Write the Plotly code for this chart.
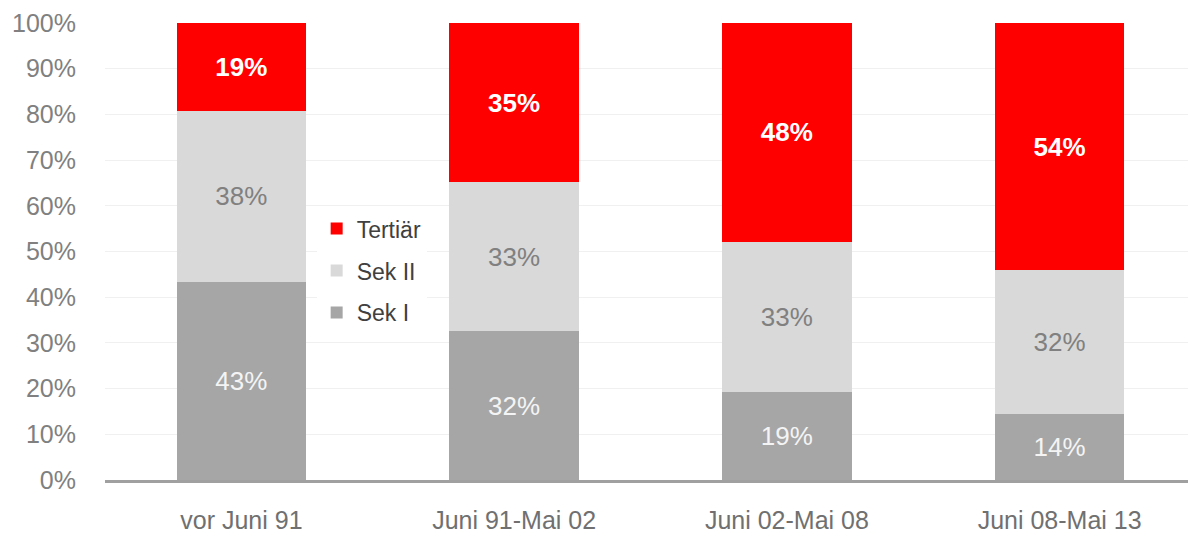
import plotly.graph_objects as go

categories = ["vor Juni 91", "Juni 91-Mai 02", "Juni 02-Mai 08", "Juni 08-Mai 13"]
sek1 = [43.3, 32.5, 19.2, 14.4]
sek2 = [37.5, 32.6, 32.9, 31.5]
tert = [19.2, 34.9, 47.9, 54.1]

FONT = "Liberation Sans, Arial, sans-serif"

fig = go.Figure()
series = [
    ("Sek I", sek1, "#A6A6A6", dict(color="#F4F4F4", size=26, family=FONT), 3),
    ("Sek II", sek2, "#D9D9D9", dict(color="#808080", size=26, family=FONT), 2),
    ("Tertiär", tert, "#FF0000", dict(color="#FFFFFF", size=26, family=FONT, weight="bold"), 1),
]
for name, vals, col, tf, rank in series:
    fig.add_trace(go.Bar(
        x=categories, y=vals, name=name, legendgroup=name, legendrank=rank,
        marker=dict(color=col, line=dict(width=0)),
        text=[f"{round(v)}%" for v in vals], textposition="inside",
        insidetextanchor="middle", textfont=tf, textangle=0,
        hoverinfo="skip",
    ))

fig.update_layout(
    barmode="stack", bargap=0.525,
    width=1188, height=528,
    margin=dict(l=97, r=0, t=15, b=56),
    paper_bgcolor="white", plot_bgcolor="white",
    legend=dict(
        x=0.194, y=0.597, xanchor="left", yanchor="top",
        bgcolor="white", traceorder="grouped", tracegroupgap=9,
        font=dict(family=FONT, size=23, color="#404040"),
        itemwidth=30,
    ),
    font=dict(family=FONT),
)
fig.update_yaxes(
    range=[0, 100], tickvals=list(range(0, 101, 10)),
    ticktext=[f"{v}%" for v in range(0, 101, 10)],
    tickfont=dict(size=25, color="#808080", family=FONT),
    showgrid=True, gridcolor="#F0F0F0", gridwidth=1,
    zeroline=False, showline=False, ticks="", ticklabelstandoff=28,
    automargin=False,
)
fig.update_xaxes(
    range=[-0.5, 3.5],
    tickfont=dict(size=25, color="#707070", family=FONT),
    showline=True, linecolor="#A0A0A0", linewidth=3,
    ticks="", ticklabelstandoff=16, automargin=False,
)

fig.write_html("out.html")
